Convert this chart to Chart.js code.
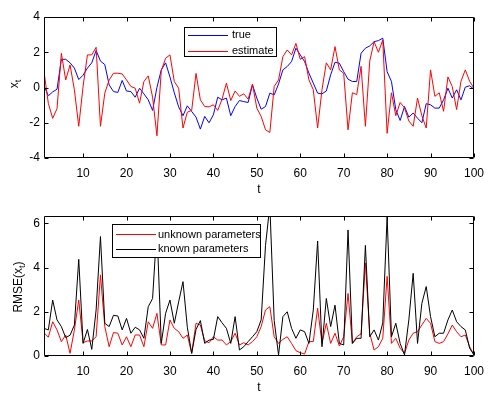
<!DOCTYPE html>
<html lang="en">
<head>
<meta charset="UTF-8">
<title>Estimate vs true state and RMSE</title>
<script src="https://cdn.jsdelivr.net/npm/chart.js"></script>
<style>
    body { margin: 0; background: #fff; }
    .janela { position: relative; width: 492px; height: 396px; }
    .painel { position: absolute; left: 0; width: 492px; height: 198px; }
</style>
</head>
<body>
<div class="janela">
    <div class="painel" style="top:0"><canvas id="grafico-estado" width="492" height="198"></canvas></div>
    <div class="painel" style="top:198px"><canvas id="grafico-rmse" width="492" height="198"></canvas></div>
</div>

<script>
    // time index t = 1..100
    const tempo = Array.from({ length: 100 }, (_, i) => i + 1);
    const xTicks = [10, 20, 30, 40, 50, 60, 70, 80, 90, 100];
    const estadoTicks = [-4, -2, 0, 2, 4];
    const rmseTicks = [0, 2, 4, 6];

    const estadoVerdadeiro = [
        0.1, -0.47, -0.25, -0.1, 1.6, 1.6, 1.4, 1.1, 0.45, 0.7,
        1.1, 1.4, 2.1, 1.5, 1.3, 0.15, -0.23, -0.28, 0.4, -0.2,
        -0.23, -0.55, -0.04, -0.36, -0.7, -1.3, 0.0, 1.0, 1.4, 0.6,
        -0.3, -1.1, -1.6, -1.04, -1.36, -1.68, -2.36, -1.64, -2.0, -1.55,
        -0.55, -0.7, -0.6, -1.6, -1.08, -0.74, -0.8, -0.85, 0.15, -0.6,
        -1.23, -1.08, -0.32, -0.42, 0.2, 1.0, 1.19, 1.47, 2.23, 1.85,
        1.47, 0.81, 0.25, -0.32, -0.36, -0.2, 0.72, 1.43, 1.38, 0.9,
        0.47, 0.34, 0.34, 1.94, 2.23, 2.36, 2.6, 2.66, 2.8, 0.9,
        0.34, -1.26, -1.87, -1.08, -1.68, -1.45, -1.74, -2.0, -0.92, -0.98,
        -1.17, -1.17, -0.7, -0.04, -0.6, -0.13, -0.7, 0.02, 0.1, -0.1
    ];
    const estadoEstimado = [
        0.9, -0.9, -1.75, -1.2, 1.94, 0.43, 1.28, -0.13, -2.2, 0.06,
        1.85, 1.85, 2.28, -2.2, -0.32, 0.43, 0.81, 0.81, 0.77, 0.43,
        0.06, -0.04, -0.89, 0.34, 0.66, -0.55, -2.74, 0.96, 1.66, 1.85,
        0.34, -0.04, -2.3, -1.4, -1.3, 0.8, -0.7, -1.08, -1.1, -0.98,
        -1.3, -0.66, 0.25, -0.74, -0.2, -0.5, -0.36, -0.66, 0.2, -1.17,
        -1.64, -2.4, -2.55, 0.06, 0.43, 1.75, 2.13, 1.85, 2.5, 1.6,
        1.75, 0.43, -0.13, -2.3, -0.13, 1.4, 1.0, 2.32, 1.0, 0.81,
        -2.4, -0.3, -0.4, 1.2, -2.2, 1.5, 2.6, 2.0, 2.7, -2.6,
        -0.3, -1.6, -0.85, -1.15, -1.9, -2.2, -0.6, -1.6, -2.3, 1.0,
        -0.5, -0.3, -1.35, 0.6, 0.05, -1.25, 0.35, 1.0, 0.35, -0.04
    ];
    const rmseDesconhecidos = [
        1.05, 0.85, 1.55, 1.18, 0.65, 0.95, 0.12, 1.18, 2.53, 0.6,
        0.68, 0.68, 0.87, 3.67, 1.33, 0.42, 1.06, 1.03, 0.5, 0.87,
        0.42, 0.95, 0.95, 0.42, 1.55, 1.25, 1.93, 0.5, 0.5, 1.63,
        1.25, 1.1, 0.8, 0.95, 0.12, 1.48, 1.4, 0.69, 0.6, 0.87,
        0.72, 0.72, 0.5, 0.65, 1.03, 0.5, 0.6, 0.5, 0.65, 0.87,
        1.33, 2.08, 2.23, 0.87, 0.57, 0.75, 0.87, 0.57, 0.24, 0.15,
        0.09, 0.65, 0.65, 2.16, 0.57, 1.48, 0.57, 1.03, 0.45, 0.87,
        2.83, 0.57, 0.87, 1.0, 4.2, 1.03, 0.27, 0.42, 0.8, 3.6,
        0.57, 0.8, 0.35, 0.12, 0.72, 1.03, 1.1, 1.4, 1.7, 1.48,
        0.65, 0.57, 0.65, 1.0, 1.4, 1.1, 0.87, 0.95, 0.42, 0.05
    ];
    const rmseConhecidos = [
        1.25, 1.18, 2.53, 1.63, 1.33, 0.83, 0.94, 1.4, 4.37, 0.57,
        1.2, 0.3, 2.08, 5.4, 1.48, 1.33, 1.84, 1.81, 1.18, 1.7,
        1.03, 1.3, 1.18, 0.8, 2.23, 2.6, 5.8, 0.57, 1.93, 2.53,
        1.48, 2.45, 3.36, 1.3, 0.12, 1.2, 1.6, 0.57, 0.72, 0.75,
        1.78, 1.5, 1.25, 0.57, 1.78, 0.27, 0.42, 0.65, 0.87, 1.1,
        1.63, 5.0, 6.8, 1.6, 0.05, 1.78, 2.0, 1.25, 0.8, 1.18,
        1.1, 0.57, 2.08, 5.2, 0.42, 2.6, 1.33, 2.3, 0.57, 0.5,
        5.7, 0.57, 0.8, 0.8, 5.0, 0.87, 1.18, 0.72, 1.5, 6.3,
        0.87, 1.48, 0.57, 0.05, 1.63, 3.74, 0.57, 2.38, 3.14, 1.78,
        0.87, 1.03, 1.03, 1.63, 2.08, 1.55, 1.33, 1.18, 0.35, 0.05
    ];

    const fonte = "'Liberation Sans', Arial, Helvetica, sans-serif";
    Chart.defaults.font.family = fonte;
    Chart.defaults.font.size = 12;
    Chart.defaults.color = '#000';

    function pontos(valores) {
        return tempo.map((t, i) => ({ x: t, y: valores[i] }));
    }

    // MATLAB-like box with inward ticks, legend box and rotated y title
    function moldura(ticksY, legenda, titulo) {
        return {
            id: 'moldura',
            afterDatasetsDraw(chart) {
                const ctx = chart.ctx;
                const a = chart.chartArea;
                const sx = chart.scales.x, sy = chart.scales.y;
                ctx.save();
                ctx.strokeStyle = '#000';
                ctx.lineWidth = 1;
                ctx.beginPath();
                const L = Math.round(a.left) + 0.5, R = Math.round(a.right) - 0.5;
                const T = Math.round(a.top) + 0.5, B = Math.round(a.bottom) - 0.5;
                ctx.rect(L, T, R - L, B - T);
                xTicks.forEach(v => {
                    const p = Math.round(sx.getPixelForValue(v)) + 0.5;
                    ctx.moveTo(p, B); ctx.lineTo(p, B - 4);
                    ctx.moveTo(p, T); ctx.lineTo(p, T + 4);
                });
                ticksY.forEach(v => {
                    const p = Math.round(sy.getPixelForValue(v)) + 0.5;
                    ctx.moveTo(L, p); ctx.lineTo(L + 4, p);
                    ctx.moveTo(R, p); ctx.lineTo(R - 4, p);
                });
                ctx.stroke();

                // legend
                const c = legenda.caixa;
                ctx.fillStyle = '#fff';
                ctx.fillRect(c.x, c.y, c.w, c.h);
                ctx.strokeRect(c.x + 0.5, c.y + 0.5, c.w - 1, c.h - 1);
                ctx.font = '11px ' + fonte;
                ctx.textBaseline = 'middle';
                ctx.textAlign = 'left';
                legenda.itens.forEach((item, i) => {
                    const yy = c.y + legenda.linha0 + i * legenda.passo;
                    ctx.strokeStyle = item.cor;
                    ctx.beginPath();
                    ctx.moveTo(c.x + legenda.x1, Math.round(yy) + 0.5);
                    ctx.lineTo(c.x + legenda.x2, Math.round(yy) + 0.5);
                    ctx.stroke();
                    ctx.fillStyle = '#000';
                    ctx.fillText(item.texto, c.x + legenda.xt, yy + 0.5);
                });

                // y title with subscript t
                ctx.translate(titulo.x, titulo.y);
                ctx.rotate(-Math.PI / 2);
                ctx.font = '12px ' + fonte;
                const w1 = ctx.measureText(titulo.antes).width;
                ctx.font = '9px ' + fonte;
                const w2 = ctx.measureText('t').width;
                ctx.font = '12px ' + fonte;
                const w3 = ctx.measureText(titulo.depois).width;
                let px = -(w1 + w2 + w3) / 2;
                ctx.textBaseline = 'alphabetic';
                ctx.fillStyle = '#000';
                ctx.fillText(titulo.antes, px, 0);
                px += w1;
                ctx.font = '9px ' + fonte;
                ctx.fillText('t', px, 3);
                px += w2;
                ctx.font = '12px ' + fonte;
                ctx.fillText(titulo.depois, px, 0);
                ctx.restore();
            }
        };
    }

    function criarGrafico(id, datasets, yMin, yMax, ticksY, topo, legenda, titulo) {
        return new Chart(document.getElementById(id), {
            type: 'line',
            data: { datasets: datasets },
            options: {
                responsive: false,
                animation: false,
                devicePixelRatio: 1,
                layout: { padding: { left: 0, right: 14, top: topo, bottom: 0 } },
                plugins: { legend: { display: false }, tooltip: { enabled: false } },
                elements: { point: { radius: 0 }, line: { tension: 0, borderWidth: 1 } },
                scales: {
                    x: {
                        type: 'linear', min: 1, max: 100,
                        grid: { display: false, drawTicks: false },
                        border: { display: false },
                        ticks: { padding: 8, autoSkip: false, maxRotation: 0 },
                        afterBuildTicks: s => { s.ticks = xTicks.map(v => ({ value: v })); },
                        afterFit: s => { s.height = 40; },
                        title: { display: true, text: 't', padding: { top: 0, bottom: 1 } }
                    },
                    y: {
                        min: yMin, max: yMax,
                        grid: { display: false, drawTicks: false },
                        border: { display: false },
                        ticks: { padding: 4 },
                        afterBuildTicks: s => { s.ticks = ticksY.map(v => ({ value: v })); },
                        afterFit: s => { s.width = 44; }
                    }
                }
            },
            plugins: [moldura(ticksY, legenda, titulo)]
        });
    }

    criarGrafico('grafico-estado', [
        { label: 'true', data: pontos(estadoVerdadeiro), borderColor: '#0000ff', order: 2 },
        { label: 'estimate', data: pontos(estadoEstimado), borderColor: '#ff0000', order: 1 }
    ], -4, 4, estadoTicks, 17, {
        caixa: { x: 184, y: 27, w: 93, h: 30 },
        linha0: 7.5, passo: 16, x1: 4, x2: 44, xt: 48,
        itens: [{ texto: 'true', cor: '#0000ff' }, { texto: 'estimate', cor: '#ff0000' }]
    }, { x: 18, y: 84, antes: 'x', depois: '' });

    criarGrafico('grafico-rmse', [
        { label: 'unknown parameters', data: pontos(rmseDesconhecidos), borderColor: '#ff0000', order: 2 },
        { label: 'known parameters', data: pontos(rmseConhecidos), borderColor: '#000000', order: 1 }
    ], 0, 6.33, rmseTicks, 18, {
        caixa: { x: 112, y: 26, w: 149, h: 34 },
        linha0: 10, passo: 14.5, x1: 4, x2: 44, xt: 46,
        itens: [{ texto: 'unknown parameters', cor: '#ff0000' }, { texto: 'known parameters', cor: '#000000' }]
    }, { x: 22, y: 89, antes: 'RMSE(x', depois: ')' });
</script>
</body>
</html>
